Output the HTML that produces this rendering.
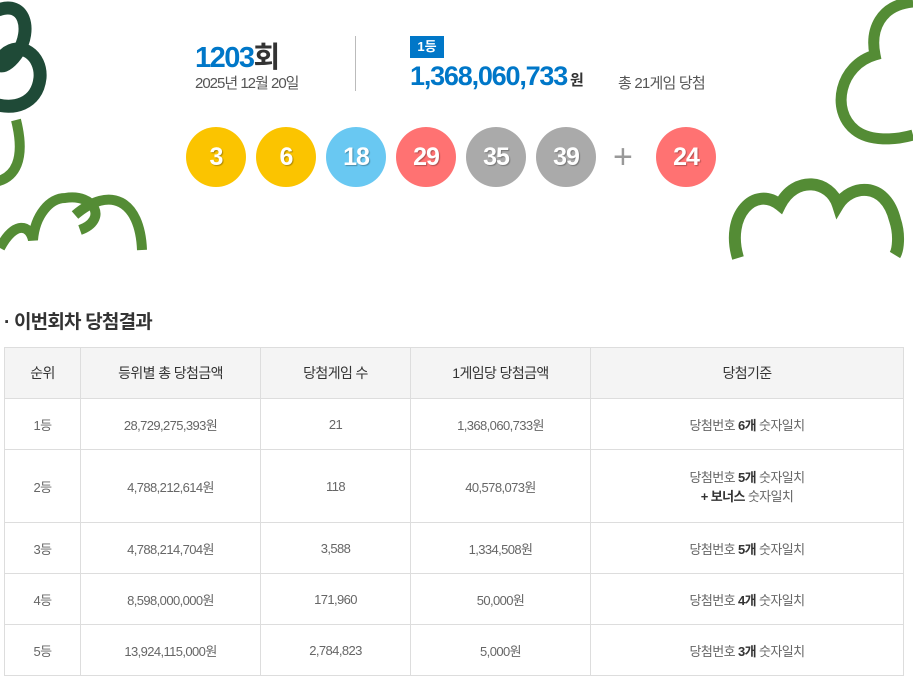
<!DOCTYPE html>
<html><head><meta charset="utf-8"><style>
body{margin:0;width:913px;height:693px;background:#fff;font-family:"Liberation Sans","Noto Sans CJK KR",sans-serif;position:relative;overflow:hidden;color:#333}
.a{position:absolute}
.ball{position:absolute;top:127px;width:60px;height:60px;border-radius:50%;color:#fff;font-size:25px;font-weight:bold;text-align:center;line-height:60px;text-shadow:1px 1px 1px rgba(0,0,0,.3);letter-spacing:-1px}
table{position:absolute;left:4px;top:347px;width:900px;border-collapse:collapse;border-top:1px solid #333;font-size:13px;color:#666;letter-spacing:-0.6px}
td,th{border:1px solid #ddd;text-align:center;padding:0;vertical-align:middle}
th{background:#f4f4f4;font-weight:normal;color:#333;height:50px;font-size:14px}
td{height:50px}
tr.tall td{height:72px}
td b{color:#333}
</style></head><body>
<svg class="a" style="left:0;top:0" width="160" height="260">
<path d="M-2,10 C25,0 32,30 18,52 C5,72 -8,68 4,55 C20,40 42,55 40,78 C37,105 12,110 -5,104" fill="none" stroke="#1f4a37" stroke-width="13"/>
<path d="M16,120 C26,160 15,178 -5,182" fill="none" stroke="#548c35" stroke-width="10"/>
<path d="M0,248 C15,220 30,225 33,240 C35,215 50,198 65,198 C95,193 108,220 80,230 M75,215 C110,185 140,200 142,250" fill="none" stroke="#548c35" stroke-width="10"/>
</svg>
<svg class="a" style="left:720px;top:0" width="193" height="260">
<path d="M193,2 C160,5 150,30 155,55 C120,65 110,110 135,130 C150,142 175,140 193,135" fill="none" stroke="#548c35" stroke-width="11"/>
<path d="M18,258 C5,215 35,185 60,205 C75,175 110,180 118,205 C130,185 165,180 175,220 C180,235 178,250 175,255" fill="none" stroke="#548c35" stroke-width="12"/>
</svg>
<div class="a" style="left:195px;top:34px;font-size:29px;font-weight:bold;color:#0077c8;letter-spacing:-1.5px">1203<span style="color:#333">회</span></div>
<div class="a" style="left:195px;top:72px;font-size:15px;color:#555;letter-spacing:-1px">2025년 12월 20일</div>
<div class="a" style="left:355px;top:36px;width:1px;height:55px;background:#bbb"></div>
<div class="a" style="left:410px;top:36px;width:34px;height:22px;background:#0077c8;color:#fff;font-size:13px;font-weight:bold;text-align:center;line-height:22px">1등</div>
<div class="a" style="left:410px;top:61px;font-size:27px;font-weight:bold;color:#0077c8;letter-spacing:-1.2px">1,368,060,733<span style="font-size:15px;color:#333"> 원</span></div>
<div class="a" style="left:618px;top:72px;font-size:15px;color:#555;letter-spacing:-0.8px">총 21게임 당첨</div>
<div class="ball" style="left:186px;background:#fbc400">3</div>
<div class="ball" style="left:256px;background:#fbc400">6</div>
<div class="ball" style="left:326px;background:#69c8f2">18</div>
<div class="ball" style="left:396px;background:#ff7272">29</div>
<div class="ball" style="left:466px;background:#aaa">35</div>
<div class="ball" style="left:536px;background:#aaa">39</div>
<div class="a" style="left:613px;top:137px;font-size:34px;color:#999;line-height:40px">+</div>
<div class="ball" style="left:656px;background:#ff7272">24</div>
<div class="a" style="left:4px;top:307px;font-size:19px;font-weight:bold;color:#333;letter-spacing:-0.8px">· 이번회차 당첨결과</div>
<table>
<tr><th style="width:75px">순위</th><th style="width:179px">등위별 총 당첨금액</th><th style="width:149px">당첨게임 수</th><th style="width:179px">1게임당 당첨금액</th><th>당첨기준</th></tr>
<tr><td>1등</td><td>28,729,275,393원</td><td>21</td><td>1,368,060,733원</td><td>당첨번호 <b>6개</b> 숫자일치</td></tr>
<tr class="tall"><td>2등</td><td>4,788,212,614원</td><td>118</td><td>40,578,073원</td><td>당첨번호 <b>5개</b> 숫자일치<br><b>+ 보너스</b> 숫자일치</td></tr>
<tr><td>3등</td><td>4,788,214,704원</td><td>3,588</td><td>1,334,508원</td><td>당첨번호 <b>5개</b> 숫자일치</td></tr>
<tr><td>4등</td><td>8,598,000,000원</td><td>171,960</td><td>50,000원</td><td>당첨번호 <b>4개</b> 숫자일치</td></tr>
<tr><td>5등</td><td>13,924,115,000원</td><td>2,784,823</td><td>5,000원</td><td>당첨번호 <b>3개</b> 숫자일치</td></tr>
</table>
</body></html>
